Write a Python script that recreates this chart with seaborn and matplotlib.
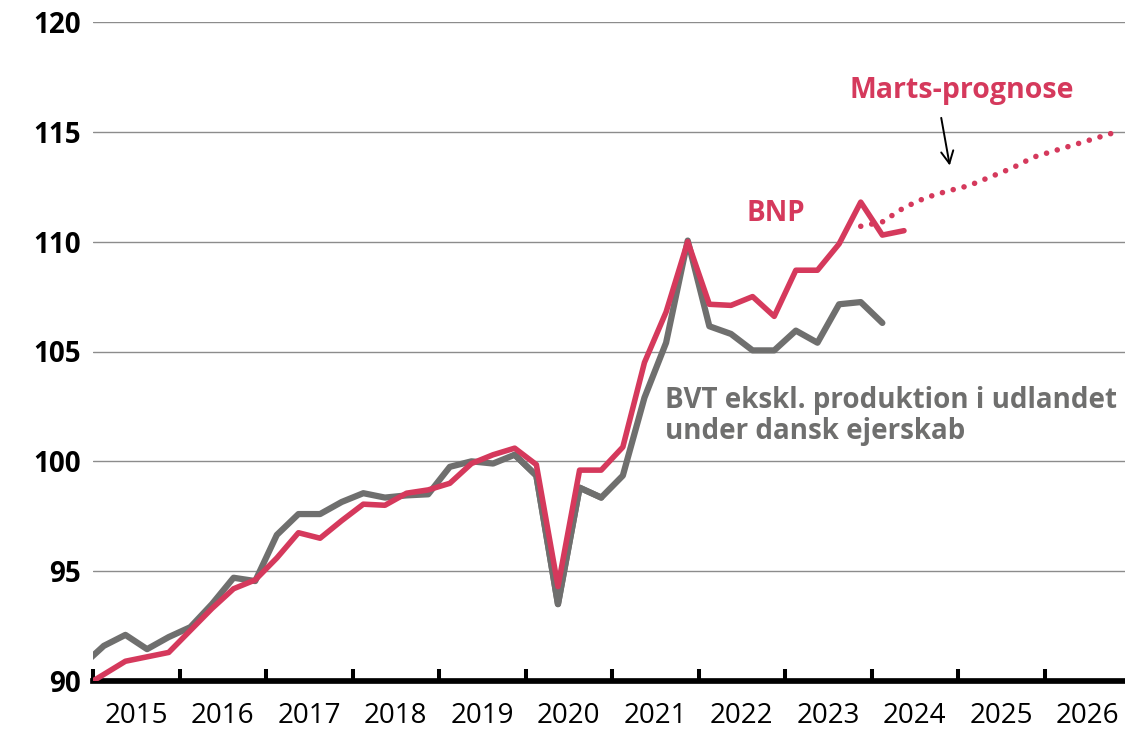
import matplotlib
matplotlib.use("Agg")
import matplotlib.pyplot as plt
import numpy as np
import pandas as pd
import seaborn as sns

# quarterly series, 2014Q4 onwards
bnp = [89.7, 90.3, 90.9, 91.1, 91.3, 92.3, 93.3, 94.2, 94.6, 95.6, 96.75,
       96.5, 97.3, 98.05, 98.0, 98.55, 98.7, 99.0, 99.9, 100.3, 100.6,
       99.85, 94.3, 99.6, 99.6, 100.65, 104.5, 106.8, 110.0, 107.15, 107.1,
       107.5, 106.6, 108.7, 108.7, 109.9, 111.8, 110.3, 110.5]
bvt = [90.7, 91.6, 92.1, 91.45, 92.0, 92.45, 93.5, 94.7, 94.55, 96.65, 97.6,
       97.6, 98.15, 98.55, 98.35, 98.45, 98.5, 99.75, 100.0, 99.9, 100.3,
       99.35, 93.5, 98.8, 98.35, 99.35, 102.9, 105.4, 110.05, 106.15, 105.8,
       105.05, 105.05, 105.95, 105.4, 107.15, 107.25, 106.3]
# Marts-prognose, 2023Q4 - 2026Q4
prognose = [110.7, 110.9, 111.55, 112.0, 112.3, 112.55, 112.95, 113.35,
            113.85, 114.15, 114.45, 114.75, 115.05]
years = list(range(2015, 2027))

RED = "#d5395c"
GRAY = "#6f6f6e"


def quarter_pos(start_year, start_q, n):
    # centre of each quarter in decimal years
    idx = np.arange(n) + (start_year * 4 + start_q - 1)
    return idx / 4 + 0.125


df_bnp = pd.DataFrame({"x": quarter_pos(2014, 4, len(bnp)), "y": bnp})
df_bvt = pd.DataFrame({"x": quarter_pos(2014, 4, len(bvt)), "y": bvt})
df_prog = pd.DataFrame({"x": quarter_pos(2023, 4, len(prognose)), "y": prognose})

sns.set_theme(style="white")
plt.rcParams["font.family"] = ["Open Sans", "DejaVu Sans"]

fig = plt.figure(figsize=(11.25, 7.29), dpi=100)
ax = fig.add_axes([93 / 1125, 1 - 681 / 729, 1 - 93 / 1125, (681 - 22) / 729])

for v in range(95, 121, 5):
    ax.axhline(v, color="#8c8c8c", lw=1.0, zorder=0)

sns.lineplot(data=df_prog, x="x", y="y", ax=ax, color=RED, lw=4.0,
             linestyle=(0, (0.01, 2.0)), dash_capstyle="round", zorder=2)
sns.lineplot(data=df_bvt, x="x", y="y", ax=ax, color=GRAY, lw=4.5, zorder=3)
sns.lineplot(data=df_bnp, x="x", y="y", ax=ax, color=RED, lw=4.0, zorder=4)
# grey drawn over red around the covid dip, as in the original
sns.lineplot(data=df_bvt.iloc[20:25], x="x", y="y", ax=ax, color=GRAY, lw=4.5, zorder=3.5)

ax.set_xlim(2015, 2026.93)
ax.set_ylim(90, 120)
ax.set_xlabel("")
ax.set_ylabel("")

ax.set_xticks(years)
ax.set_xticklabels([])
ax.set_xticks([y + 0.5 for y in years], minor=True)
ax.set_xticklabels([str(y) for y in years], minor=True, fontsize=20)
ax.tick_params(axis="x", which="major", bottom=True, direction="in", length=8.5,
               width=2.9, color="black")
ax.tick_params(axis="x", which="minor", bottom=True, length=0, pad=15, labelcolor="black")

ax.set_yticks(range(90, 121, 5))
ax.set_yticklabels([str(v) for v in range(90, 121, 5)], fontsize=20, fontweight="bold")
ax.tick_params(axis="y", length=0, pad=9, labelcolor="black")

for s in ["top", "right", "left"]:
    ax.spines[s].set_visible(False)
ax.spines["bottom"].set_color("black")
ax.spines["bottom"].set_linewidth(4.1)

ax.text(2022.89, 111.26, "BNP", color=RED, fontsize=20, fontweight="bold", ha="center", va="center")
ax.text(2021.61, 102.06, "BVT ekskl. produktion i udlandet\nunder dansk ejerskab", color=GRAY,
        fontsize=20, fontweight="bold", ha="left", va="center", linespacing=1.1)
ax.text(2025.04, 116.9, "Marts-prognose", color=RED, fontsize=20.5, fontweight="bold",
        ha="center", va="center")
ax.annotate("", xy=(2024.91, 113.34), xytext=(2024.80, 115.76),
            arrowprops=dict(arrowstyle="->", color="black", lw=1.4, mutation_scale=22))

fig.savefig("out.png", dpi=100)
